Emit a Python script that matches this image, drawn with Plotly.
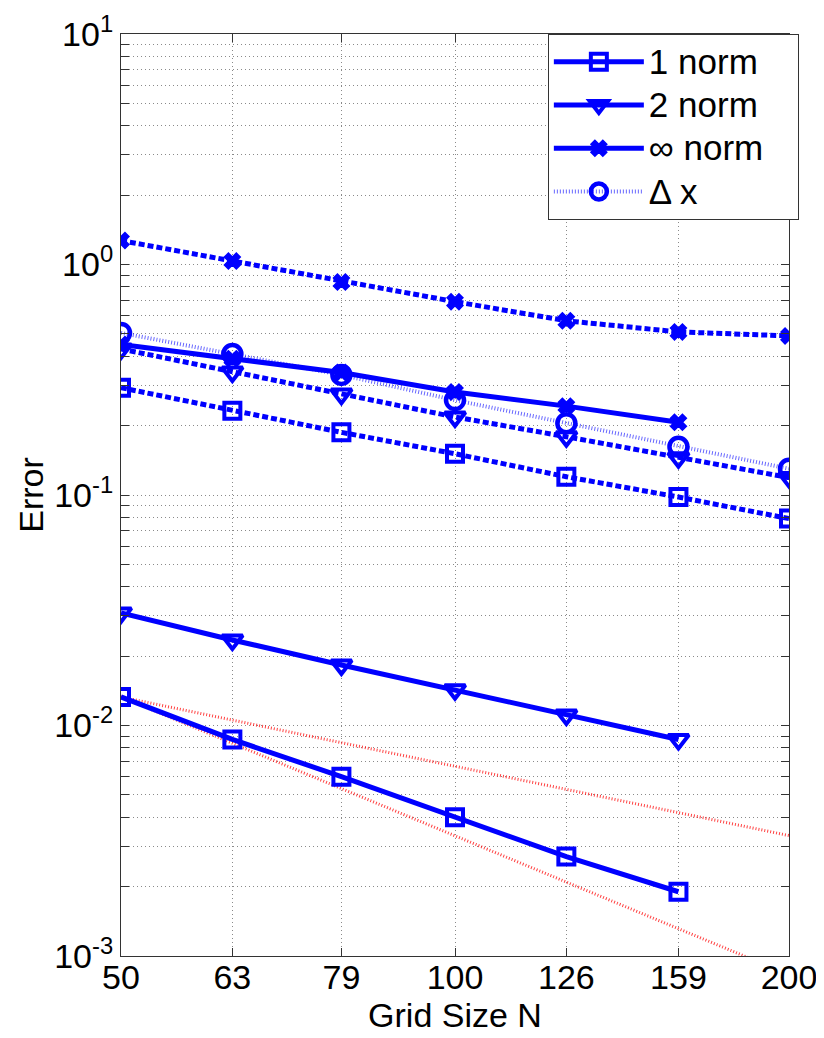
import plotly.graph_objects as go

# ---- data ----
N = [50, 63, 79, 100, 126, 159, 200]
N6 = [50, 63, 79, 100, 126, 159]
x_ticklabels = ["50", "63", "79", "100", "126", "159", "200"]

one_norm_solid = [0.0133, 0.0087, 0.0060, 0.0040, 0.0027, 0.0019]
two_norm_solid = [0.0308, 0.0235, 0.0183, 0.0143, 0.0111, 0.0087]
inf_norm_solid = [0.45, 0.39, 0.34, 0.28, 0.243, 0.207]

one_norm_dash = [0.292, 0.232, 0.187, 0.151, 0.120, 0.098, 0.079]
two_norm_dash = [0.43, 0.342, 0.274, 0.218, 0.179, 0.145, 0.119]
inf_norm_dash = [1.27, 1.035, 0.84, 0.69, 0.57, 0.51, 0.49]
delta_x = [0.505, 0.409, 0.332, 0.258, 0.205, 0.162, 0.130]

ref_x = [50, 200]
ref_first = [0.0133, 0.00333]
ref_second = [0.0133, 0.00083]

legend_names = ["1 norm", "2 norm", "\u221e norm", "\u0394 x"]

y_tickvals = [1e-3, 1e-2, 1e-1, 1, 10]
y_ticktext = ["10<sup>-3</sup>", "10<sup>-2</sup>", "10<sup>-1</sup>", "10<sup>0</sup>", "10<sup>1</sup>"]
y_minor = [k * 10.0 ** d for d in range(-3, 1) for k in range(2, 10)]

BLUE = "#0000ff"
LW = 5
DASH = "6px,3px"

def lname(s):
    return '<span style="font-size:35px">' + s + '\u00a0\u00a0\u00a0</span>'

fig = go.Figure()

# red reference slopes
for ry in (ref_first, ref_second):
    fig.add_trace(go.Scatter(x=ref_x, y=ry, mode="lines", showlegend=False,
                             line=dict(color="rgba(255,0,0,0.75)", width=3, dash="1px,2px")))

def mk(symbol, size, lw=4):
    return dict(symbol=symbol, size=size, color=BLUE, line=dict(color=BLUE, width=lw))

SQ = mk("square-open", 16, 4)
TR = mk("triangle-down-open", 18, 4)
XX = mk("x", 14, 1.5)
CI = mk("circle-open", 18, 4.5)

# dashed (not in legend)
fig.add_trace(go.Scatter(x=N, y=inf_norm_dash, mode="lines+markers", showlegend=False,
                         line=dict(color=BLUE, width=LW, dash=DASH), marker=XX))
fig.add_trace(go.Scatter(x=N, y=two_norm_dash, mode="lines+markers", showlegend=False,
                         line=dict(color=BLUE, width=LW, dash=DASH), marker=TR))
fig.add_trace(go.Scatter(x=N, y=one_norm_dash, mode="lines+markers", showlegend=False,
                         line=dict(color=BLUE, width=LW, dash=DASH), marker=SQ))

# legend traces
fig.add_trace(go.Scatter(x=N6, y=one_norm_solid, mode="lines+markers", name=lname(legend_names[0]),
                         line=dict(color=BLUE, width=LW), marker=SQ))
fig.add_trace(go.Scatter(x=N6, y=two_norm_solid, mode="lines+markers", name=lname(legend_names[1]),
                         line=dict(color=BLUE, width=LW), marker=TR))
fig.add_trace(go.Scatter(x=N6, y=inf_norm_solid, mode="lines+markers", name=lname(legend_names[2]),
                         line=dict(color=BLUE, width=LW), marker=XX))
fig.add_trace(go.Scatter(x=N, y=delta_x, mode="lines+markers", name=lname(legend_names[3]),
                         line=dict(color="rgba(0,0,255,0.6)", width=4, dash="1px,2px"),
                         marker=CI))

FONT = "Liberation Sans, Arial, sans-serif"
GRID = "#8a8a8a"
GDASH = "1px,3px"
AX = "#333333"

# the page body adds an 8px offset, so the figure is 8px smaller
fig.update_layout(
    width=816, height=1030,
    margin=dict(l=113, r=35, t=26, b=82),
    paper_bgcolor="white", plot_bgcolor="white",
    font=dict(family=FONT, size=34, color="black"),
    legend=dict(x=0.639, y=1.0, xanchor="left", yanchor="top",
                bgcolor="white", bordercolor=AX, borderwidth=1,
                font=dict(size=31, family=FONT), itemwidth=90),
    xaxis=dict(type="log", range=[1.69897, 2.30103],
               tickmode="array", tickvals=N, ticktext=x_ticklabels,
               ticks="inside", ticklen=8, tickcolor=AX, mirror="ticks",
               showline=True, linecolor=AX, linewidth=1,
               showgrid=True, gridcolor=GRID, griddash=GDASH, gridwidth=1,
               zeroline=False, automargin=False, ticklabelstandoff=-9,
               title=dict(text="Grid Size N", font=dict(size=34), standoff=0)),
    yaxis=dict(type="log", range=[-3, 1],
               tickmode="array", tickvals=y_tickvals, ticktext=y_ticktext,
               ticks="inside", ticklen=8, tickcolor=AX, mirror="ticks",
               showline=True, linecolor=AX, linewidth=1,
               showgrid=True, gridcolor=GRID, griddash=GDASH, gridwidth=1,
               zeroline=False, automargin=False,
               minor=dict(tickmode="array", tickvals=y_minor, ticks="inside", ticklen=8,
                          tickcolor=AX, showgrid=True, gridcolor=GRID, griddash=GDASH, gridwidth=1),
               title=dict(text="Error", font=dict(size=34), standoff=0)),
)

fig.write_html("out.html")
